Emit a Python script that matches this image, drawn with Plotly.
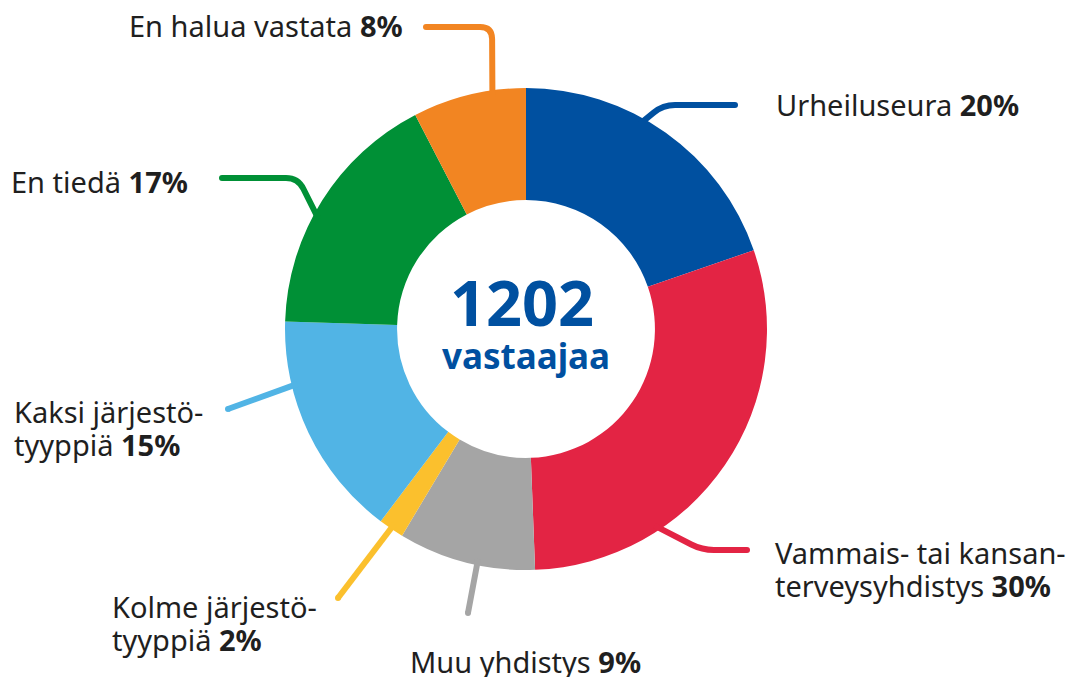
import math
import plotly.graph_objects as go

# Data (clockwise from 12 o'clock)
labels = ["Urheiluseura", "Vammais- tai kansan-<br>terveysyhdistys", "Muu yhdistys",
          "Kolme järjestö-<br>tyyppiä", "Kaksi järjestö-<br>tyyppiä", "En tiedä", "En halua vastata"]
shares = [19.7, 29.7, 9.2, 1.7, 15.2, 16.9, 7.6]
shown_pct = [20, 30, 9, 2, 15, 17, 8]
colors = ["#0050a0", "#e32444", "#a5a5a5", "#fbc02d", "#51b4e5", "#009036", "#f28522"]
respondents = 1202

W, H = 1078, 677
cx, cy, R = 526, 329, 241
hole = 0.535
FONT = "Noto Sans"


def px(x):
    return x / W


def py(y):
    return 1 - y / H


def rim_point(theta_deg, r):
    t = math.radians(theta_deg)
    return cx + r * math.sin(t), cy - r * math.cos(t)


def rounded_path(pts, rad=12):
    d = "M %.4f %.4f" % (px(pts[0][0]), py(pts[0][1]))
    for i in range(1, len(pts) - 1):
        (x0, y0), (x1, y1), (x2, y2) = pts[i - 1], pts[i], pts[i + 1]
        l1 = math.hypot(x1 - x0, y1 - y0)
        l2 = math.hypot(x2 - x1, y2 - y1)
        r = min(rad, l1 / 2, l2 / 2)
        a = (x1 - (x1 - x0) / l1 * r, y1 - (y1 - y0) / l1 * r)
        b = (x1 + (x2 - x1) / l2 * r, y1 + (y2 - y1) / l2 * r)
        d += " L %.4f %.4f Q %.4f %.4f %.4f %.4f" % (px(a[0]), py(a[1]), px(x1), py(y1), px(b[0]), py(b[1]))
    d += " L %.4f %.4f" % (px(pts[-1][0]), py(pts[-1][1]))
    return d


fig = go.Figure(go.Pie(
    values=shares,
    labels=[l.replace("<br>", " ") for l in labels],
    marker=dict(colors=colors, line=dict(width=0)),
    hole=hole,
    sort=False,
    direction="clockwise",
    rotation=0,
    textinfo="none",
    hoverinfo="label+percent",
    domain=dict(x=[px(cx - R), px(cx + R)], y=[py(cy + R), py(cy - R)]),
    showlegend=False,
))

# leader lines: position within slice, then elbow/end points (pixels)
leaders = [
    (0.41, [(663, 105), (735, 105)]),
    (0.71, [(702, 550), (747, 550)]),
    (0.42, [(468, 613)]),
    (0.50, [(338, 598)]),
    (0.72, [(228, 409)]),
    (0.43, [(298, 178), (222, 178)]),
    (0.70, [(492, 27), (426, 27)]),
]
# label anchors (pixels): x, y of first line, anchor
label_pos = [
    (774, 105, "left"),
    (773, 552, "left"),
    (408, 661, "left"),
    (110, 606, "left"),
    (12, 411, "left"),
    (9, 182, "left"),
    (405, 25, "right"),
]
line_gap = 33

total = sum(shares)
cum = 0
shapes = []
annotations = []
for i, v in enumerate(shares):
    a0 = cum / total * 360
    a1 = (cum + v) / total * 360
    cum += v
    t, rest = leaders[i]
    start = rim_point(a0 + t * (a1 - a0), R - 6)
    shapes.append(dict(type="path", path=rounded_path([start] + rest), xref="paper", yref="paper",
                       line=dict(color=colors[i], width=6)))
    ex, ey = rest[-1]
    shapes.append(dict(type="circle", xref="paper", yref="paper",
                       x0=px(ex - 3), x1=px(ex + 3), y0=py(ey + 3), y1=py(ey - 3),
                       fillcolor=colors[i], line=dict(width=0)))
    lx, ly, anc = label_pos[i]
    lines = labels[i].split("<br>")
    lines[-1] = "%s <b>%d%%</b>" % (lines[-1], shown_pct[i])
    for k, txt in enumerate(lines):
        annotations.append(dict(
            x=px(lx), y=py(ly + k * line_gap), xref="paper", yref="paper", xanchor=anc, yanchor="middle",
            text=txt, showarrow=False,
            font=dict(family=FONT, size=29, color="#1f1f1f"),
        ))

annotations.append(dict(x=px(522), y=py(301), xref="paper", yref="paper", showarrow=False,
                        text="<b>%d</b>" % respondents, xanchor="center", yanchor="middle",
                        font=dict(family=FONT, size=63, color="#0050a0")))
annotations.append(dict(x=px(cx), y=py(355), xref="paper", yref="paper", showarrow=False,
                        text="<b>vastaajaa</b>", xanchor="center", yanchor="middle",
                        font=dict(family=FONT, size=35, color="#0050a0")))

fig.update_layout(
    width=W, height=H,
    margin=dict(l=0, r=0, t=0, b=0),
    paper_bgcolor="white", plot_bgcolor="white",
    shapes=shapes, annotations=annotations,
)

fig.write_html("out.html", config={"displayModeBar": False},
               post_script="document.body.style.margin='0';")
